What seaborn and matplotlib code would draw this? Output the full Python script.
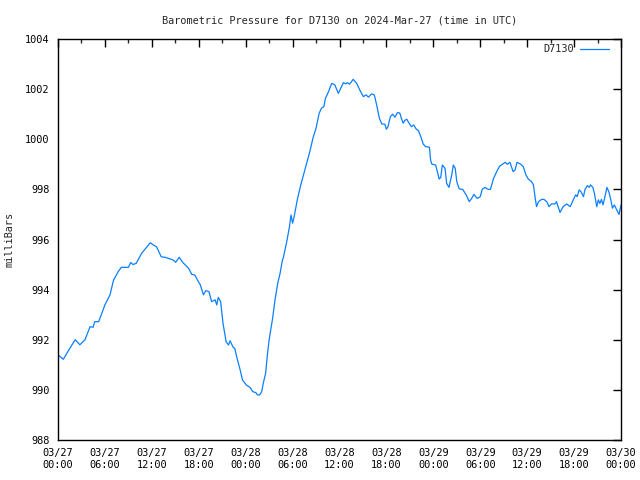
import matplotlib
matplotlib.use("Agg")
import matplotlib.pyplot as plt
import matplotlib.dates as mdates
import numpy as np
import pandas as pd
import seaborn as sns

title = "Barometric Pressure for D7130 on 2024-Mar-27 (time in UTC)"
series_name = "D7130"
start_time = "2024-03-27 00:00"

hours = [0.0, 0.68, 1.4, 2.2, 2.8, 3.45, 4.1, 4.5, 4.7, 5.2, 6.0, 6.65, 7.1, 7.7, 8.1, 9.0,
         9.3, 9.6, 10.0, 10.7, 11.8, 12.2, 12.6, 13.2, 13.7, 14.75, 15.05, 15.5, 16.0, 16.7,
         17.1, 17.5, 17.95, 18.2, 18.6, 18.9, 19.3, 19.65, 20.1, 20.3, 20.5, 20.8, 21.1, 21.5,
         21.8, 22.0, 22.4, 22.6, 22.85, 23.3, 23.6, 24.1, 24.55, 24.9, 25.3, 25.5, 25.8, 26.05,
         26.25, 26.55, 26.8, 27.0, 27.2, 27.45, 27.75, 28.1, 28.4, 28.7, 28.8, 29.25, 29.6,
         29.8, 30.0, 30.2, 30.6, 31.05, 31.45, 31.9, 32.2, 32.65, 33.0, 33.4, 33.7, 34.0, 34.2,
         34.6, 35.0, 35.4, 35.85, 36.15, 36.5, 36.8, 37.0, 37.3, 37.75, 38.2, 38.6, 39.05, 39.4,
         39.7, 40.1, 40.45, 40.75, 41.1, 41.4, 41.8, 42.0, 42.2, 42.5, 42.8, 43.1, 43.4, 43.7,
         43.95, 44.15, 44.35, 44.6, 44.9, 45.2, 45.5, 45.8, 46.1, 46.4, 46.7, 47.0, 47.5, 47.65,
         47.8, 48.3, 48.75, 48.95, 49.15, 49.5, 49.7, 50.0, 50.35, 50.55, 50.8, 51.0, 51.3,
         51.75, 52.2, 52.6, 52.9, 53.2, 53.6, 54.0, 54.25, 54.6, 55.0, 55.3, 55.7, 56.2, 56.5,
         57.2, 57.45, 57.8, 58.2, 58.45, 58.7, 59.15, 59.5, 59.85, 60.15, 60.55, 60.8, 61.0,
         61.2, 61.45, 61.85, 62.15, 62.5, 62.8, 63.1, 63.55, 63.75, 64.2, 64.6, 65.05, 65.5,
         65.9, 66.2, 66.4, 66.65, 66.9, 67.2, 67.4, 67.7, 67.95, 68.1, 68.4, 68.6, 68.9, 69.1,
         69.3, 69.5, 69.7, 70.0, 70.2, 70.45, 70.7, 70.9, 71.15, 71.45, 71.75, 72.0]
pressure = [991.40, 991.22, 991.60, 992.00, 991.80, 992.00, 992.52, 992.50, 992.72, 992.72,
            993.39, 993.79, 994.38, 994.72, 994.89, 994.89, 995.08, 995.00, 995.05, 995.45,
            995.87, 995.78, 995.71, 995.31, 995.29, 995.18, 995.09, 995.29, 995.07, 994.85,
            994.61, 994.58, 994.32, 994.19, 993.79, 993.96, 993.92, 993.52, 993.59, 993.39,
            993.69, 993.52, 992.66, 991.92, 991.79, 991.96, 991.70, 991.66, 991.32, 990.79,
            990.39, 990.19, 990.10, 989.93, 989.89, 989.80, 989.80, 989.93, 990.26, 990.66,
            991.46, 991.99, 992.39, 992.86, 993.59, 994.25, 994.65, 995.18, 995.25, 995.91,
            996.51, 996.98, 996.65, 996.91, 997.58, 998.18, 998.64, 999.17, 999.50, 1000.10,
            1000.44, 1001.04, 1001.24, 1001.30, 1001.63, 1001.90, 1002.23, 1002.17, 1001.83,
            1002.03, 1002.26, 1002.21, 1002.26, 1002.20, 1002.39, 1002.23, 1001.96, 1001.70,
            1001.77, 1001.68, 1001.81, 1001.77, 1001.37, 1000.84, 1000.61, 1000.60, 1000.40,
            1000.50, 1000.90, 1001.00, 1000.88, 1001.06, 1001.05, 1000.80, 1000.64, 1000.75,
            1000.80, 1000.64, 1000.50, 1000.57, 1000.41, 1000.34, 1000.10, 999.81, 999.71,
            999.68, 999.17, 999.01, 998.97, 998.41, 998.48, 998.97, 998.84, 998.24, 998.08,
            998.57, 998.97, 998.84, 998.31, 998.02, 998.00, 997.78, 997.51, 997.64, 997.80,
            997.64, 997.71, 998.00, 998.08, 998.00, 998.00, 998.44, 998.77, 998.93, 999.08,
            999.00, 999.08, 998.71, 998.77, 999.08, 999.01, 998.91, 998.57, 998.41, 998.31,
            998.18, 997.71, 997.31, 997.51, 997.60, 997.60, 997.51, 997.31, 997.42, 997.42,
            997.51, 997.08, 997.31, 997.42, 997.31, 997.58, 997.78, 997.71, 997.98, 997.90,
            997.71, 998.00, 998.15, 998.08, 998.18, 998.08, 997.84, 997.31, 997.58, 997.44,
            997.60, 997.38, 997.78, 998.08, 997.90, 997.58, 997.25, 997.38, 997.18, 997.00,
            997.38]

y_ticks = [988, 990, 992, 994, 996, 998, 1000, 1002, 1004]

t0 = pd.Timestamp(start_time)
df = pd.DataFrame({"time": t0 + pd.to_timedelta(hours, unit="h"), "pressure": pressure})

sns.set_style("white")
plt.rcParams["font.family"] = ["DejaVu Sans Mono"]
FS = 7.4

fig = plt.figure(figsize=(6.4, 4.8), dpi=100)
ax = fig.add_axes([58 / 640, 1 - 440 / 480, (621 - 58) / 640, (440 - 39) / 480])

sns.lineplot(data=df, x="time", y="pressure", ax=ax, color="#0a7fff", linewidth=0.9,
             label=series_name)

ax.set_xlim(t0, t0 + pd.Timedelta(hours=72))
ax.set_ylim(988, 1004)
ax.set_yticks(y_ticks)
ax.set_yticklabels([str(v) for v in y_ticks])
ax.xaxis.set_major_locator(mdates.HourLocator(byhour=[0, 6, 12, 18]))
ax.xaxis.set_minor_locator(mdates.HourLocator(byhour=[3, 9, 15, 21]))
ax.xaxis.set_major_formatter(mdates.DateFormatter("%m/%d\n%H:%M"))

for s in ax.spines.values():
    s.set_color("black")
    s.set_linewidth(1.0)
ax.tick_params(axis="x", which="major", direction="in", length=6, width=1,
               top=True, labelsize=FS, colors="black", pad=6)
ax.tick_params(axis="y", which="major", direction="in", length=6, width=1,
               right=True, labelsize=FS, colors="black", pad=6)
ax.tick_params(axis="x", which="minor", direction="in", length=3, width=1, top=True)
ax.tick_params(axis="y", which="minor", left=False, right=False)
for lbl in ax.get_xticklabels():
    lbl.set_horizontalalignment("center")

ax.set_xlabel("")
ax.set_ylabel("milliBars", fontsize=FS, labelpad=8)
ax.set_title(title, fontsize=FS, pad=11)

leg = ax.legend(loc="upper right", bbox_to_anchor=(1.0, 1.0 + 7 / 401), frameon=False,
                fontsize=FS, handlelength=2.8, markerfirst=False, borderaxespad=0.8,
                handletextpad=0.6)

fig.savefig("out.png", dpi=100)
